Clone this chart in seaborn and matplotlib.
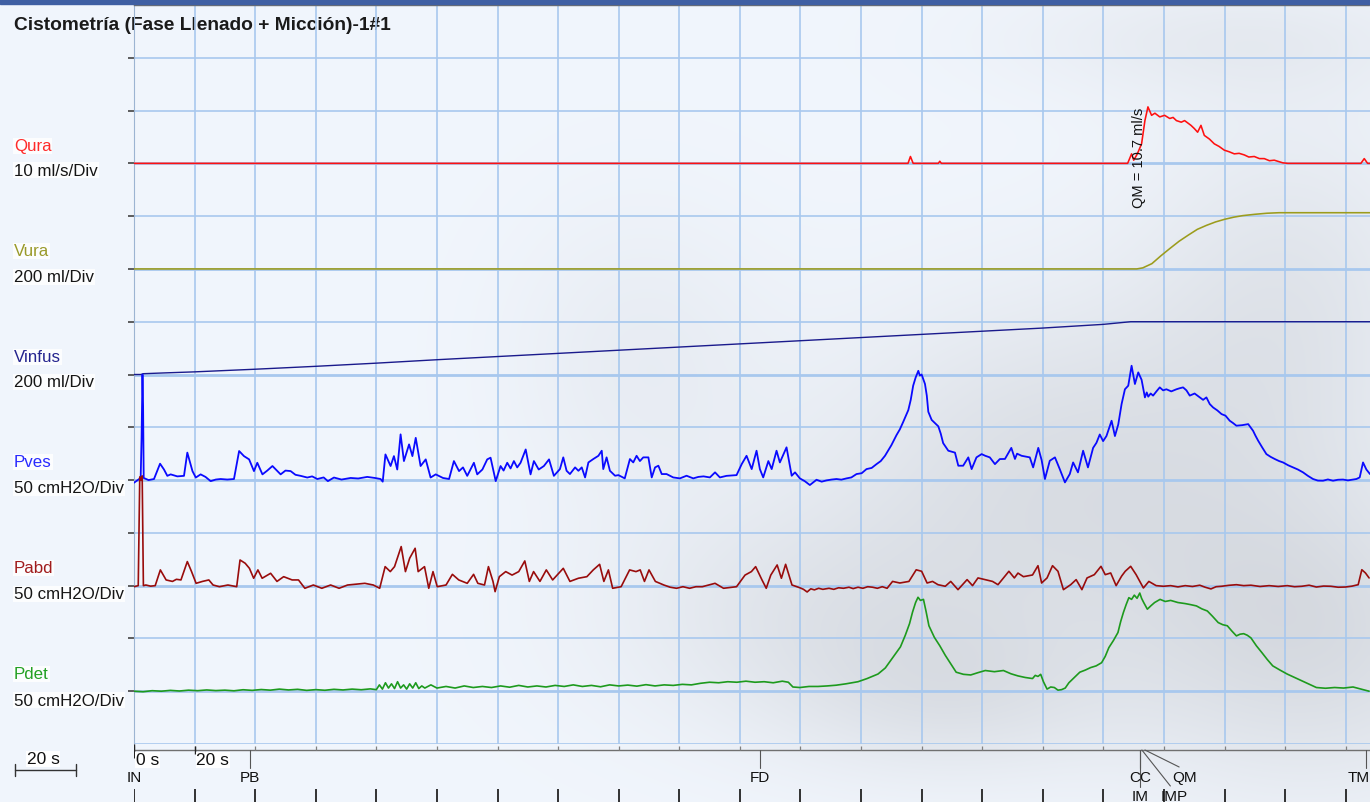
import numpy as np
import pandas as pd
import matplotlib
matplotlib.use("Agg")
import matplotlib.pyplot as plt
from matplotlib.lines import Line2D
from matplotlib.patches import Rectangle
import seaborn as sns

# ---------------- channel data: (time s, value in channel units) ----------------
qura = [(0, 0), (255.5, 0), (256.3, 1.3), (257.2, 0), (265.5, 0), (266.0, 0.4), (266.5, 0),
        (328.0, 0), (329.3, 1.8), (330.0, 0.6), (331.2, 1.8), (332.6, 3.7), (333.7, 8.1),
        (334.7, 10.7), (335.9, 9.1), (337.0, 9.5), (338.6, 8.8), (340.2, 9.1), (341.9, 8.5),
        (343.0, 8.7), (344.1, 8.1), (345.7, 7.8), (346.8, 8.1), (348.9, 7.2), (350.0, 6.6),
        (351.1, 5.9), (352.2, 7.2), (353.3, 5.3), (355.0, 4.6), (356.6, 3.7), (358.2, 3.2),
        (359.9, 2.5), (361.5, 2.2), (363.2, 1.8), (364.8, 1.9), (366.5, 1.6), (368.0, 1.2),
        (369.8, 1.3), (371.5, 0.9), (373.1, 0.9), (374.8, 0.5), (376.4, 0.6), (379.2, 0.1),
        (380.9, 0), (405.0, 0), (406.1, 0.9), (407.2, 0), (408.0, 0)]

vura = [(0, 0), (331.0, 0), (333.0, 4), (336.0, 20), (339.0, 50), (342.0, 78), (345.0, 105),
        (348.0, 128), (351.0, 150), (354.0, 165), (357.0, 178), (360.0, 188), (363.0, 196),
        (366.0, 202), (370.0, 207), (374.0, 211), (378.0, 213), (408.0, 213)]

vinfus = [(0, 0), (2.3, 0), (3.0, 3), (10, 6), (20, 10), (40, 20), (60, 31), (80, 43),
          (100, 56), (120, 68), (140, 80), (160, 92), (180, 104), (200, 116), (220, 128),
          (240, 140), (260, 152), (280, 164), (300, 176), (320, 190), (329, 200), (408, 200)]

pves = [(0, -2.5), (1.7, 1), (2.2, 2), (2.5, 40), (2.8, 100), (3.0, 70), (3.2, 2), (4.8, 0),
        (6.6, 1), (8.6, 15.5), (9.9, 10), (11.0, 4), (12.1, 5.4), (14.3, 3.5), (16.5, 4),
        (17.6, 26), (19.3, 8.5), (20.4, 2.4), (22.0, 5.4), (23.6, 3), (25.3, -1), (27.0, 0.5),
        (28.6, 1), (30.8, 0.5), (33.0, 1), (34.7, 27.5), (36.3, 22.7), (38.0, 19.6),
        (39.6, 8.5), (40.7, 16.4), (42.4, 5.4), (44.0, 9), (45.7, 13.3), (48.4, 5.4),
        (50.0, 9), (51.7, 8.5), (53.3, 5), (55.0, 4), (57.2, 2.4), (58.8, 3.5), (60.5, 1),
        (62.6, 2.5), (64.0, -1), (66.0, 2.4), (68.5, 0.5), (71.5, 2), (74.0, 1.5), (77.0, 3),
        (79.5, 2), (81.4, 1), (82.1, -1.5), (83.0, 24.3), (84.7, 13.3), (85.8, 22.7),
        (86.9, 10), (88.0, 43.3), (89.1, 18), (90.8, 33.8), (91.9, 22.7), (93.0, 40),
        (94.6, 13.3), (96.3, 19.6), (97.9, 2.4), (99.6, 5.4), (102.0, 2), (104.0, 1),
        (105.6, 18), (107.3, 8.5), (108.6, 12), (110.0, 4), (112.2, 16.4), (113.3, 5.4),
        (115.0, 10), (116.6, 19.6), (117.7, 21.2), (119.4, -1), (121.0, 13.3), (122.0, 9),
        (123.2, 16.4), (124.3, 11), (125.4, 18), (126.5, 12), (127.6, 16.4), (129.3, 29),
        (130.9, 5.4), (132.0, 18), (133.6, 10), (135.3, 13.3), (137.0, 19.6), (138.6, 4),
        (140.6, 10.4), (141.7, 21.5), (142.8, 8.8), (143.9, 5.7), (145.6, 12), (146.7, 8.8),
        (147.8, 12), (148.9, 2.5), (150.0, 16.7), (151.6, 19.9), (153.3, 23), (154.4, 27.8),
        (154.9, 10.4), (156.0, 21.5), (157.1, 8.8), (158.8, 4.1), (159.9, 4.7), (162.0, 1.6),
        (163.7, 19.9), (164.8, 16.7), (165.9, 23), (167.0, 18), (168.1, 21.5), (169.8, 21.5),
        (170.9, 2.5), (172.0, 12), (173.1, 13.6), (174.2, 5.7), (175.8, 5.7), (178.0, 2.5),
        (180.2, 1.6), (182.4, 4.1), (184.6, 1.6), (186.3, 3), (188.0, 3.5), (190.1, 2.5),
        (191.8, 7.3), (193.4, 2.5), (195.6, 4), (198.9, 4.7), (200.6, 15.1), (202.2, 23),
        (203.9, 10.4), (205.5, 27.8), (206.6, 10.4), (207.7, 2.5), (209.4, 18), (210.5, 10.4),
        (212.1, 27.8), (213.2, 16.7), (215.4, 31), (217.1, 4.1), (218.2, 7.3), (219.8, 1.6),
        (221.4, -1), (223.1, -4.7), (225.3, 0.3), (227.0, -1.5), (228.6, -0.3), (230.3, 0.5),
        (231.9, 1), (233.5, 0.4), (235.2, 1.6), (236.8, 2.5), (238.5, 5.7), (240.2, 6.5),
        (241.8, 10.4), (243.5, 11.5), (245.1, 15.1), (246.5, 18), (247.9, 23), (250.0, 33),
        (251.7, 42.6), (252.8, 48), (253.9, 55), (255.6, 66.3), (256.4, 76), (257.2, 89.4),
        (258.0, 97), (258.9, 103.5), (259.4, 99), (260.0, 100), (261.1, 91), (261.7, 80),
        (262.2, 64.7), (263.3, 57), (264.4, 54), (265.5, 50.9), (266.3, 44), (267.1, 35),
        (268.8, 27.8), (271.0, 26), (272.1, 13.6), (273.7, 13.6), (275.4, 21.5), (276.5, 10.4),
        (278.1, 21.5), (279.8, 24.6), (281.0, 23), (282.5, 21.5), (284.2, 15.1), (285.8, 19.9),
        (287.5, 20), (289.6, 30.5), (290.8, 20), (291.5, 25), (293.0, 23), (295.7, 21.5),
        (296.8, 12), (298.5, 30.5), (299.6, 19), (300.7, 1), (302.3, 18.3), (304.0, 21.5),
        (305.6, 10.3), (307.3, -2.2), (308.9, 5.7), (310.0, 16.7), (311.6, 7.3), (313.3, 27.8),
        (314.9, 12), (316.6, 30.5), (317.7, 35.3), (318.8, 43.2), (319.9, 36.9), (321.0, 41.7),
        (322.7, 56.2), (323.8, 41.7), (324.9, 52.7), (326.0, 72), (327.1, 86), (328.2, 89.4),
        (329.3, 108.3), (330.4, 91), (331.5, 102), (332.6, 95), (333.7, 78.3), (334.3, 83),
        (334.8, 79), (335.6, 82), (336.4, 80), (337.5, 84), (338.6, 87.8), (339.7, 85),
        (340.8, 86), (342.4, 84), (344.1, 86), (345.2, 87), (346.3, 87.8), (347.4, 85),
        (348.5, 80), (350.1, 82), (351.8, 78.3), (352.9, 76), (354.0, 78.3), (355.1, 72),
        (356.2, 68.8), (357.6, 66), (359.0, 62.5), (360.3, 61), (361.7, 56.2), (362.8, 54),
        (363.9, 51.5), (365.8, 52), (367.8, 53), (369.4, 46.7), (370.2, 42), (371.1, 37.2),
        (372.4, 31), (373.8, 24.6), (375.2, 22), (376.6, 19.9), (378.0, 18), (379.3, 16.7),
        (381.0, 14), (382.6, 12), (384.2, 10), (385.9, 7.3), (387.5, 4), (389.2, 1),
        (390.8, -0.5), (392.5, -0.6), (394.1, 0.6), (395.8, -0.6), (397.4, 0.3), (399.1, 0.5),
        (400.7, -0.3), (402.4, 0.5), (403.5, 1), (404.6, 2.5), (405.7, 16.7), (406.8, 10),
        (408.0, 5.7)]

pabd = [(0, -1), (1.4, 0), (1.9, 103), (2.3, 100), (2.7, 104), (3.1, 0), (3.9, 0.6),
        (5.5, -0.5), (7.0, 0), (8.7, 14.9), (10.6, 5.4), (12.7, 4), (14.0, 6), (15.5, 5.4),
        (17.6, 22.8), (19.0, 13.3), (20.5, 2.2), (22.6, 4), (24.7, 5.4), (26.1, 0.6),
        (28.2, -1), (31.0, 0.6), (33.9, -1), (35.0, 24.3), (36.7, 21.2), (38.1, 16.4),
        (39.5, 7), (40.9, 14.9), (42.3, 7), (45.1, 11.7), (47.2, 4), (49.4, 8.5), (52.2, 5.4),
        (54.3, 5.4), (56.4, -2.5), (59.2, 0.6), (62.0, -2.5), (64.9, 0.6), (67.7, -2.5),
        (70.5, 0.6), (76.2, 2.2), (79.0, 0.6), (81.1, -2.5), (82.9, 18), (84.6, 13.3),
        (86.0, 18), (88.2, 37), (89.6, 13.3), (91.0, 26), (92.8, 35.4), (93.8, 13.3),
        (95.9, 18), (97.3, -2.5), (98.7, 13.3), (100.1, -1), (103.0, 0.6), (105.1, 10.7),
        (107.2, 5.4), (110.0, 2.2), (112.1, 10.7), (113.5, 2.2), (115.7, 0.6), (117.0, 18),
        (118.5, 4), (119.2, -5.7), (120.6, 8.5), (122.7, 13.3), (124.8, 10), (127.0, 13.3),
        (129.0, 23.4), (130.5, 4), (131.9, 13.3), (134.0, 4), (136.1, 14.9), (138.2, 5.4),
        (141.7, 16.4), (143.9, 4), (146.7, 7), (149.5, 8.5), (151.6, 14.9), (153.7, 20.2),
        (155.1, 4), (156.6, 14.9), (158.0, -2.5), (160.8, -1), (163.6, 14.9), (165.7, 13.3),
        (167.1, 14.9), (168.5, 4), (170.0, 14.9), (172.1, 4), (174.9, 0.6), (177.0, -1.5),
        (179.1, -2.5), (181.2, -1), (183.4, -2.5), (185.5, -1), (187.6, -1), (191.8, 2.2),
        (194.6, -2.5), (198.9, -1), (201.7, 10), (203.8, 13.3), (205.2, 18), (207.3, 5.4),
        (208.7, -2.5), (210.2, 10), (212.3, 19.6), (213.7, 7), (215.1, 20.2), (217.2, 0.6),
        (219.8, -2), (221.0, -3.5), (222.2, -6), (223.4, -3), (224.6, -4), (226.0, -2.5),
        (227.4, -3.5), (229.4, -2.5), (231.0, -3.5), (232.6, -2), (234.2, -2.5), (236.0, -1.5),
        (237.4, -2.8), (239.0, -1.5), (240.6, -2.5), (242.2, -1), (243.8, -1.5), (245.4, -2.5),
        (247.0, -1), (248.6, -2.5), (250.4, 4), (252.8, 2.5), (255.8, 4), (258.2, 15),
        (260.0, 13.6), (261.8, 2.5), (263.6, 4), (265.4, 0.9), (267.8, -0.6), (269.6, 4),
        (272.0, -3.8), (275.0, 5.7), (276.8, 0), (278.6, 7.3), (281.0, 5.7), (283.4, 4),
        (285.2, 0.9), (288.8, 13.6), (290.6, 7.3), (291.8, 11.9), (293.6, 8.5), (296.6, 10.1),
        (298.4, 18.9), (299.6, 2.5), (301.4, 7.3), (303.2, 18.9), (305.0, 13.6), (306.8, -3.8),
        (309.2, 0.9), (311.0, 5.7), (312.9, -3.8), (314.6, 7.3), (317.0, 10.4), (319.2, 18.3),
        (320.6, 10.4), (322.4, 12), (324.2, 0), (326.0, 9), (327.2, 13.6), (329.0, 18.3),
        (330.8, 10.4), (333.2, -2.2), (335.0, 4), (337.4, 0), (339.8, -0.6), (342.2, 0),
        (344.6, -1.2), (347.0, 0), (349.4, -0.8), (351.8, 0.4), (353.6, -1.5), (355.5, -3.1),
        (357.2, -1), (359.0, -0.6), (361.4, 0.3), (363.9, 0.9), (366.3, 0), (368.7, 0.4),
        (371.7, -0.8), (374.7, 0), (377.7, -0.8), (380.7, 0), (383.1, -1), (385.5, -0.6),
        (387.9, 0.4), (390.3, -1.3), (392.7, -0.4), (395.1, -0.6), (397.5, -1.5), (399.9, -1.3),
        (402.0, -0.5), (404.1, 0.9), (405.3, 15.1), (406.5, 12), (407.7, 7.3)]

pdet = [(0, 0), (3, -0.5), (6, 0.5), (9, 0), (12, 0.8), (15, 0.2), (18, 1), (21, 0.5), (24, 1.2),
        (27, 0.6), (30, 1), (33, 0.4), (36, 1.4), (39, 0.8), (42, 1.6), (45, 1), (48, 2),
        (51, 1.2), (54, 1.8), (57, 0.8), (60, 1.5), (63, 0.9), (66, 1.8), (69, 1.2), (72, 2),
        (75, 1.4), (78, 2.2), (80, 1.5), (81, 6), (82, 2), (83, 8), (84, 3), (85, 7), (86, 2.5),
        (87, 9), (88, 3), (89, 6), (90, 2), (91, 7), (92, 3), (93, 8), (94, 2.5), (95, 5),
        (96, 3), (98, 6), (100, 3), (103, 4.5), (106, 3), (109, 5), (112, 3.5), (115, 4.5),
        (118, 3.5), (121, 5), (124, 3.8), (127, 5.5), (130, 4), (133, 5), (136, 4), (139, 5.5),
        (142, 4.5), (145, 6), (148, 4.5), (151, 5.5), (154, 4.2), (157, 6), (160, 5),
        (163, 5.8), (166, 4.8), (169, 6.2), (172, 5), (175, 6), (178, 5.5), (181, 6.5),
        (184, 6), (187, 7.5), (190, 8.5), (193, 8), (196, 9), (199, 8.5), (202, 9.5),
        (205, 8.5), (208, 9), (211, 8), (214, 9.5), (216, 8.5), (217.5, 4), (219.8, 3.5),
        (222.8, 4.5), (225.8, 4.5), (228.8, 5), (231.8, 5.7), (235, 7), (239, 9), (242, 12),
        (245.6, 16.3), (248, 22), (251, 34), (253, 42), (254.6, 53), (256, 64), (257, 75),
        (258, 84), (258.8, 89), (259.6, 86), (260.6, 87), (261.5, 75), (262.4, 62),
        (264.2, 51), (266, 43), (267.8, 34), (269.6, 26), (271.4, 18), (273.8, 16),
        (276.2, 15.4), (278.5, 17.5), (281, 19.6), (284, 18.5), (287, 19.6), (289.5, 16.5),
        (291.8, 14.5), (294.2, 13), (296.6, 12), (297.5, 15), (298.4, 14), (299.3, 16),
        (300.2, 9), (301.4, 2), (302.6, 4), (303.8, 3.5), (305, 1), (306.2, 1.5), (307.4, 3),
        (308.6, 8), (310.4, 13), (312.2, 18), (314, 20), (315.8, 22.4), (317.6, 24),
        (319.4, 27), (320.6, 33), (321.8, 41.3), (323.3, 48), (324.8, 55.6), (325.7, 66),
        (326.6, 74.6), (327.5, 82), (328.4, 88.6), (329.3, 87), (330.2, 91), (331.1, 88),
        (332, 93), (332.6, 88), (333.3, 84), (334.5, 77.7), (335.7, 81), (336.9, 84),
        (338.7, 87), (340.4, 85), (342.2, 86), (344.6, 84), (347, 83), (348.8, 82),
        (350.7, 80.8), (352.5, 78), (354.3, 76), (356, 71), (357.9, 65), (359.4, 63),
        (360.9, 62), (362.4, 57), (363.9, 52.4), (365.1, 54), (366.3, 54.5), (367.5, 53),
        (368.7, 50.5), (370.5, 43), (372.3, 36.6), (374.1, 30), (375.9, 24), (378.3, 20),
        (380.7, 16.2), (383.1, 13), (385.5, 9.9), (387.9, 6.5), (390.3, 3.5), (393.3, 2.8),
        (396.3, 3.5), (399.3, 3), (402.4, 4), (405, 2), (407.7, 0)]

# channel name, units per division, baseline division, colours, unit text
channels = ["Qura", "Vura", "Vinfus", "Pves", "Pabd", "Pdet"]
per_div = [10, 200, 200, 50, 50, 50]
baseline = [11, 9, 7, 5, 3, 1]
trace_colors = ["#ff1010", "#9c9c1c", "#1a1a8c", "#0a0aff", "#990c0c", "#1d9a1d"]
trace_widths = [1.15, 1.15, 1.0, 1.3, 1.2, 1.2]
label_colors = ["#ff2a2a", "#9a9a2a", "#25258f", "#2a2aff", "#a01c1c", "#23a023"]
unit_labels = ["10 ml/s/Div", "200 ml/Div", "200 ml/Div", "50 cmH2O/Div", "50 cmH2O/Div", "50 cmH2O/Div"]
series = [qura, vura, vinfus, pves, pabd, pdet]

event_labels = ["IN", "PB", "FD", "CC", "QM", "IM", "IMP", "TM"]
event_times = [0, 38.3, 206.6, 332.0, 333.7, 332.0, 332.7, 406.7]

title = "Cistometría (Fase Llenado + Micción)-1#1"
t_end = 408
grid_step = 20
n_div = 14

# ---------------- figure ----------------
sns.set_theme(style="white")
plt.rcParams["font.family"] = ["Liberation Sans", "DejaVu Sans"]

W, H = 1370, 803
fig = plt.figure(figsize=(W / 100, H / 100), dpi=100)
fig.patch.set_facecolor("#eef3fa")

# soft sky backdrop
bg = fig.add_axes([0, 0, 1, 1], zorder=-10)
bg.set_axis_off()
gy, gx = np.mgrid[0:H:3, 0:W:3]
haze = np.zeros(gx.shape)
for cx, cy, sx, sy, a in [(1060, 470, 230, 170, 0.75), (1290, 300, 150, 190, 0.55),
                          (1310, 640, 190, 150, 0.85), (830, 620, 220, 120, 0.55),
                          (640, 360, 130, 150, 0.30), (1230, 40, 220, 60, 0.35),
                          (960, 700, 160, 80, 0.45)]:
    haze += a * np.exp(-(((gx - cx) / sx) ** 2 + ((gy - cy) / sy) ** 2))
haze = np.clip(haze, 0, 1)[..., None]
light = np.array([0.945, 0.963, 0.99])
cloud = np.array([0.835, 0.85, 0.875])
bg.imshow(light * (1 - haze) + cloud * haze, extent=[0, W, H, 0], aspect="auto",
          interpolation="bilinear")
bg.set_xlim(0, W)
bg.set_ylim(H, 0)

# top header strip
fig.add_artist(Rectangle((0, 1 - 5 / H), 1, 5 / H, transform=fig.transFigure,
                         color="#3f5fa3", zorder=5))

# ---------------- main trace axes ----------------
left_px, top_px, bot_px = 134, 6, 745
ax = fig.add_axes([left_px / W, 1 - bot_px / H, (W - left_px) / W, (bot_px - top_px) / H])
ax.set_facecolor("none")

grid_c = "#a8c8ee"
for k in range(n_div + 1):
    ax.axhline(k, color=grid_c, lw=2.0 if k in baseline else 1.2, zorder=1)
for t in np.arange(0, t_end + 1, grid_step):
    ax.axvline(t, color=grid_c, lw=1.2, zorder=1)

# each channel is drawn on its own baseline, scaled by its units per division
for name, pdv, base, pts, col, lw in zip(channels, per_div, baseline, series,
                                         trace_colors, trace_widths):
    tt, vv = zip(*pts)
    d = pd.DataFrame({"t": tt, "y": base + np.asarray(vv, float) / pdv})
    sns.lineplot(data=d, x="t", y="y", color=col, linewidth=lw, estimator=None,
                 sort=False, ax=ax, zorder=3)

ax.set_xlim(0, t_end)
ax.set_ylim(0, n_div)
ax.set_xlabel("")
ax.set_ylabel("")
ax.set_xticks([])
ax.set_yticks(np.arange(1, n_div))
ax.set_yticklabels([])
ax.tick_params(axis="y", left=True, length=4, width=1.1, color="#333333", direction="out")
for s in ["right", "bottom"]:
    ax.spines[s].set_visible(False)
ax.spines["left"].set_color("#9cb4d2")
ax.spines["left"].set_linewidth(0.8)
ax.spines["top"].set_color("#6e6e6e")
ax.spines["top"].set_linestyle((0, (1, 1)))
ax.spines["top"].set_linewidth(1.0)

# peak flow annotation
qt, qv = zip(*qura)
i_pk = int(np.argmax(qv))
ax.text(qt[i_pk] - 0.6, baseline[0] + qv[i_pk] / per_div[0], f"QM = {qv[i_pk]} ml/s",
        rotation=90, ha="right", va="top", fontsize=10.5, color="#111111", zorder=4)

# channel labels on the left
label_y = [(147, 171), (252, 278), (358, 383), (463, 489), (569, 595), (675, 701)]
for name, unit, col, (y1, y2) in zip(channels, unit_labels, label_colors, label_y):
    fig.text(14 / W, 1 - y1 / H, name, color=col, fontsize=12.2, va="center", ha="left",
             bbox=dict(facecolor="white", edgecolor="none", pad=0.6, alpha=0.85))
    fig.text(14 / W, 1 - y2 / H, unit, color="#151515", fontsize=12.2, va="center", ha="left",
             bbox=dict(facecolor="white", edgecolor="none", pad=0.6, alpha=0.85))

fig.text(14 / W, 1 - 25 / H, title, fontsize=13.8, fontweight="bold", color="#1a1a1a",
         va="center", ha="left", zorder=-1)

# ---------------- time / event strip ----------------
bx = fig.add_axes([left_px / W, 0, (W - left_px) / W, (H - bot_px) / H])
bx.set_xlim(0, t_end)
bx.set_ylim(H - bot_px, 0)
bx.set_axis_off()
ticks = np.arange(0, t_end + 1, grid_step)
bx.hlines(6, 0, t_end, color="#707070", lw=1.0)
bx.vlines(ticks, 2, 6, color="#808080", lw=0.9)
bx.vlines([0], 0, 14, color="#222222", lw=1.0)
bx.vlines([grid_step], 2, 10, color="#222222", lw=1.0)
for t0 in [0, grid_step]:
    bx.text(t0 + 0.6, 16, f"{t0} s", fontsize=12.5, ha="left", va="center", color="#111111",
            bbox=dict(facecolor="white", edgecolor="none", pad=0.4))
bx.vlines(ticks, 45, H - bot_px, color="#222222", lw=1.3)

label_pos = {"IN": (0, 33, "center"), "PB": (38.3, 33, "center"), "FD": (206.6, 33, "center"),
             "CC": (332.0, 33, "center"), "QM": (346.8, 33, "center"), "IM": (332.0, 52, "center"),
             "IMP": (343.3, 52, "center"), "TM": (t_end, 33, "right")}
for lab, te in zip(event_labels, event_times):
    lx, ly, ha = label_pos[lab]
    if lab == "QM":
        bx.plot([te, lx - 1.8], [6, ly - 10], color="#555555", lw=0.8)
    elif lab == "IMP":
        bx.plot([te, lx - 1.2], [6, ly - 10], color="#555555", lw=0.8)
    elif lab != "IN":
        bx.plot([te, te], [6, ly - 9], color="#555555", lw=0.8, clip_on=False)
    bx.text(lx, ly, lab, fontsize=11, ha=ha, va="center", color="#111111", clip_on=False)

# 20 s scale bar
fig.add_artist(Line2D([15 / W, 76 / W], [1 - 771 / H] * 2, color="#333333", lw=1.0))
for xp in (15, 76):
    fig.add_artist(Line2D([xp / W] * 2, [1 - 765 / H, 1 - 777 / H], color="#333333", lw=1.0))
fig.text(43 / W, 1 - 760 / H, "20 s", fontsize=12.5, ha="center", va="center", color="#111111",
         bbox=dict(facecolor="white", edgecolor="none", pad=0.4))

fig.savefig("out.png", dpi=100)
